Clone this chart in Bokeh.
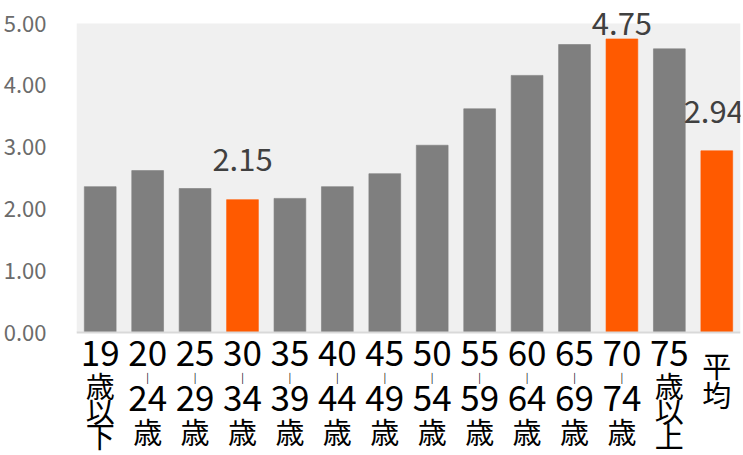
import re

from bokeh.plotting import figure
from bokeh.models import (ColumnDataSource, FactorRange, Range1d, FixedTicker,
                          NumeralTickFormatter, BoxAnnotation, Span)
from bokeh.core.properties import value
from bokeh.embed import file_html
from bokeh.resources import INLINE

# Age groups and their average score
age_groups = ["19歳以下", "20-24歳", "25-29歳", "30-34歳", "35-39歳", "40-44歳", "45-49歳",
              "50-54歳", "55-59歳", "60-64歳", "65-69歳", "70-74歳", "75歳以上", "平均"]
scores = [2.36, 2.62, 2.33, 2.15, 2.17, 2.36, 2.57, 3.03, 3.62, 4.16, 4.66, 4.75, 4.59, 2.94]
highlighted = ["30-34歳", "70-74歳", "平均"]
y_ticks = [0, 1, 2, 3, 4, 5]

JP_FONT = "Noto Sans CJK JP"
GREY = "#7f7f7f"
ORANGE = "#ff5a00"

W, H = 743, 455
LEFT, RIGHT = 73, 3
Y_MAX = 5
PANEL_TOP, PANEL_BOTTOM = 23, 332          # pixel rows of the shaded plot panel
PX = (PANEL_BOTTOM - PANEL_TOP) / Y_MAX     # pixels per score unit

# the frame spans the whole height; headroom above and label room below the panel
y_lo = -(H - PANEL_BOTTOM) / PX
y_hi = Y_MAX + PANEL_TOP / PX

colors = [ORANGE if g in highlighted else GREY for g in age_groups]
bars = ColumnDataSource(dict(group=age_groups, score=scores, color=colors))

p = figure(
    width=W, height=H,
    x_range=FactorRange(*age_groups),
    y_range=Range1d(y_lo, y_hi),
    output_backend="svg", toolbar_location=None,
    min_border_left=LEFT, min_border_right=RIGHT, min_border_top=0, min_border_bottom=0,
)
p.background_fill_color = "white"
p.border_fill_color = "white"
p.outline_line_color = None
p.xgrid.visible = False
p.ygrid.visible = False
p.xaxis.visible = False

# shaded panel behind the bars, and the baseline
p.add_layout(BoxAnnotation(bottom=0, top=Y_MAX, fill_color="#f0f0f0", fill_alpha=1,
                           line_color=None, level="underlay"))
p.add_layout(Span(location=0, dimension="width", line_color="#d9d9d9", line_width=2))

p.vbar(x="group", top="score", width=0.67, source=bars,
       fill_color="color", line_color="color", line_alpha=0.6)

# value labels above the highlighted bars (lift in px, horizontal nudge in px)
label_lift = {"30-34歳": 40, "70-74歳": 15, "平均": 39}
label_nudge = {"30-34歳": 0, "70-74歳": 0, "平均": -3}
lab = [(g, s) for g, s in zip(age_groups, scores) if g in highlighted]
labels = ColumnDataSource(dict(
    group=[g for g, _ in lab], score=[s for _, s in lab],
    text=[f"{s:.2f}" for _, s in lab],
    dy=[-label_lift[g] for g, _ in lab], dx=[label_nudge[g] for g, _ in lab],
))
p.text(x="group", y="score", text="text", x_offset="dx", y_offset="dy", source=labels,
       text_font=value(JP_FONT), text_font_size="31px", text_color="#404040",
       text_align="center", text_baseline="middle")

# y axis: labels only
p.yaxis.ticker = FixedTicker(ticks=y_ticks)
p.yaxis.formatter = NumeralTickFormatter(format="0.00")
p.yaxis.axis_line_color = None
p.yaxis.major_tick_line_color = None
p.yaxis.minor_tick_line_color = None
p.yaxis.major_label_standoff = 24
p.yaxis.major_label_text_font = JP_FONT
p.yaxis.major_label_text_font_size = "22px"
p.yaxis.major_label_text_color = "#6b6b6b"


def vertical_rows(name):
    """Split a category name into the stacked rows of vertical writing."""
    tokens = re.findall(r"\d+|-|.", name)
    if "-" in tokens:
        drops = [20, 44, 65, 98]
    elif tokens[0].isdigit():
        drops = [20, 52, 77, 102]
    else:
        drops = [32, 61]
    return [("|" if t == "-" else t, d) for t, d in zip(tokens, drops)]


sizes = {"num": "35px", "dash": "10px", "kanji": "29px"}
rows = {k: dict(x=[], y=[], t=[]) for k in sizes}
for g in age_groups:
    for t, d in vertical_rows(g):
        kind = "num" if t.isdigit() else ("dash" if t == "|" else "kanji")
        rows[kind]["x"].append(g)
        rows[kind]["y"].append(-d / PX)
        rows[kind]["t"].append(t)

for kind, cols in rows.items():
    p.text(x="x", y="y", text="t", source=ColumnDataSource(cols),
           text_font=value(JP_FONT), text_font_size=sizes[kind], text_color="black",
           text_align="center", text_baseline="middle")

open("out.html", "w").write(file_html(p, INLINE))
